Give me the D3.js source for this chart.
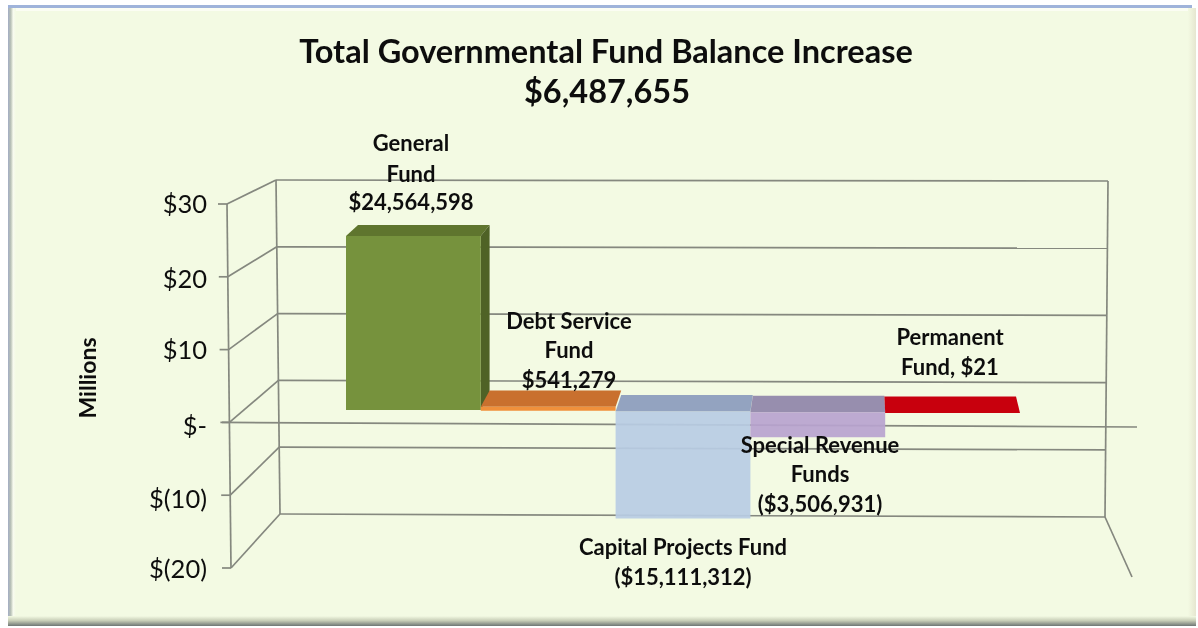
<!DOCTYPE html>
<html>
<head>
<meta charset="utf-8">
<script src="https://cdn.jsdelivr.net/npm/d3@7"></script>
<style>
  html, body { margin: 0; padding: 0; background: #fff; }
  svg { display: block; }
  text { font-family: Lato, Carlito, sans-serif; fill: #111; }
</style>
</head>
<body>
<svg id="chart" width="1198" height="628"></svg>
<script>
const categories = ["General Fund", "Debt Service Fund", "Capital Projects Fund", "Special Revenue Funds", "Permanent Fund"];
const values = [24.564598, 0.541279, -15.111312, -3.506931, 0.000021];
const faceColors = ["#76923c", "#f0903a", "#b8cce4", "#b9a3cf", "#c8000e"];
const topColors = ["#5f752d", "#c96f2e", "#8b9cbd", "#8f84a9", "#c8000e"];
const sideColors = ["#4f6228", "#c96f2e", "#8b9cbd", "#8f84a9", "#c8000e"];
const labelLines = [
  ["General", "Fund", "$24,564,598"],
  ["Debt Service", "Fund", "$541,279"],
  ["Capital Projects Fund", "($15,111,312)"],
  ["Special Revenue", "Funds", "($3,506,931)"],
  ["Permanent", "Fund, $21"]
];
const tickValues = [30, 20, 10, 0, -10, -20];
const tickLabels = ["$30", "$20", "$10", "$-", "$(10)", "$(20)"];
const titleLines = ["Total Governmental Fund Balance Increase", "$6,487,655"];

const svg = d3.select("#chart");

// panel background with the soft edge
const defs = svg.append("defs");
const soft = defs.append("filter").attr("id", "soft").attr("x", "-5%").attr("y", "-5%").attr("width", "110%").attr("height", "110%");
soft.append("feGaussianBlur").attr("stdDeviation", 0.55);
const softText = defs.append("filter").attr("id", "softText").attr("x", "-5%").attr("y", "-5%").attr("width", "110%").attr("height", "110%");
softText.append("feGaussianBlur").attr("stdDeviation", 0.4);

const bottomEdge = defs.append("linearGradient").attr("id", "bottomEdge").attr("x1", 0).attr("x2", 0).attr("y1", 0).attr("y2", 1);
bottomEdge.append("stop").attr("offset", "0%").attr("stop-color", "#f3fae3");
bottomEdge.append("stop").attr("offset", "45%").attr("stop-color", "#c9cfb8");
bottomEdge.append("stop").attr("offset", "100%").attr("stop-color", "#6f7674");

const rightEdge = defs.append("linearGradient").attr("id", "rightEdge");
rightEdge.append("stop").attr("offset", "0%").attr("stop-color", "#f3fae3");
rightEdge.append("stop").attr("offset", "100%").attr("stop-color", "#e6e6d0");

const leftEdge = defs.append("linearGradient").attr("id", "leftEdge");
leftEdge.append("stop").attr("offset", "0%").attr("stop-color", "#a3adc4");
leftEdge.append("stop").attr("offset", "35%").attr("stop-color", "#b9c2b6");
leftEdge.append("stop").attr("offset", "65%").attr("stop-color", "#f8fbef");
leftEdge.append("stop").attr("offset", "100%").attr("stop-color", "#f3fae3");

svg.append("rect").attr("x", 8).attr("y", 8).attr("width", 1188).attr("height", 618).attr("fill", "#f3fae3");
svg.append("rect").attr("x", 8).attr("y", 5).attr("width", 1184).attr("height", 3).attr("fill", "#9fb3da");
svg.append("rect").attr("x", 10).attr("y", 8).attr("width", 1182).attr("height", 3).attr("fill", "#fbfdf3");
svg.append("rect").attr("x", 8).attr("y", 8).attr("width", 8).attr("height", 618).attr("fill", "url(#leftEdge)");
svg.append("rect").attr("x", 1188).attr("y", 8).attr("width", 8).attr("height", 610).attr("fill", "url(#rightEdge)");
svg.append("rect").attr("x", 8).attr("y", 616).attr("width", 1188).attr("height", 10).attr("fill", "url(#bottomEdge)");

const chart = svg.append("g").attr("filter", "url(#soft)");

// the walls: front axis plane and back plane, each with its own scale
const yFront = d3.scaleLinear().domain([-20, 30]).range([568, 204]);
const yBack = d3.scaleLinear().domain([-20, 30]).range([514, 180]);
const yBackRight = d3.scaleLinear().domain([-20, 30]).range([517, 181]);
const xFront = d3.scaleLinear().domain([-20, 30]).range([231, 227]);
const xBack = d3.scaleLinear().domain([-20, 30]).range([280, 276]);
const xBackRight = d3.scaleLinear().domain([-20, 30]).range([1105, 1108]);

const grid = chart.append("g").attr("stroke", "#85887f").attr("stroke-width", 1.7).attr("fill", "none");

// back wall gridlines
grid.selectAll(".back").data(tickValues).join("line").attr("class", "back")
  .attr("x1", d => xBack(d)).attr("y1", d => yBack(d))
  .attr("x2", d => xBackRight(d)).attr("y2", d => yBackRight(d));

// side wall lines
grid.selectAll(".side").data(tickValues).join("line").attr("class", "side")
  .attr("x1", d => xFront(d)).attr("y1", d => yFront(d))
  .attr("x2", d => xBack(d)).attr("y2", d => yBack(d));

// front tick marks
grid.selectAll(".tick").data(tickValues).join("line").attr("class", "tick")
  .attr("x1", d => xFront(d) - 9).attr("y1", d => yFront(d))
  .attr("x2", d => xFront(d)).attr("y2", d => yFront(d));

// vertical edges
grid.append("line").attr("x1", xFront(30)).attr("y1", yFront(30)).attr("x2", xFront(-20)).attr("y2", yFront(-20));
grid.append("line").attr("x1", xBack(30)).attr("y1", yBack(30)).attr("x2", xBack(-20)).attr("y2", yBack(-20));
grid.append("line").attr("x1", xBackRight(30)).attr("y1", yBackRight(30)).attr("x2", xBackRight(-20)).attr("y2", yBackRight(-20));

// floor edge on the right and the zero line in front
grid.append("line").attr("x1", xBackRight(-20)).attr("y1", yBackRight(-20)).attr("x2", 1132).attr("y2", 577);
grid.append("line").attr("x1", 222).attr("y1", yFront(0)).attr("x2", 1137).attr("y2", 427);

// bars
const x = d3.scaleBand().domain(categories).range([346, 1020]);
const y = d3.scaleLinear().domain([-20, 30]).range([410 + 20 * 7.08, 410 - 30 * 7.08]);

// each bar sits a little lower than the one before it, but stays level itself
const tilt = d3.scaleLinear().domain([346, 1020]).range([-0.5, 3.5]);
// where a front corner lands on the back face of the bar
const dx = d3.scaleLinear().domain([346, 1020]).range([12, -4]);
const dy = d3.scaleLinear().domain([236, 410]).range([11, 16.5]);
const path = pts => d3.line()(pts) + "Z";

const bars = chart.append("g").selectAll("g").data(categories).join("g")
  .attr("fill-opacity", (d, i) => values[i] < 0 ? 0.92 : 1);

bars.each(function (d, i) {
  const g = d3.select(this);
  const x0 = x(d), x1 = x0 + x.bandwidth();
  const shift = tilt((x0 + x1) / 2);
  const yTop = y(Math.max(0, values[i]));
  const yBottom = y(Math.min(0, values[i]));
  const front = (px, py) => [px, py + shift];
  const back = (px, py) => [px + dx(px), py + shift - dy(py)];
  // top face
  g.append("path").attr("fill", topColors[i])
    .attr("d", path([front(x0, yTop), front(x1, yTop), back(x1, yTop), back(x0, yTop)]));
  // side face, only the tall bar really shows one
  if (values[i] > 1) {
    g.append("path").attr("fill", sideColors[i])
      .attr("d", path([front(x1, yTop), back(x1, yTop), back(x1, yBottom), front(x1, yBottom)]));
  }
  // front face
  g.append("path").attr("fill", faceColors[i])
    .attr("d", path([front(x0, yTop), front(x1, yTop), front(x1, yBottom), front(x0, yBottom)]));
});

// texts
const texts = svg.append("g").attr("filter", "url(#softText)");

const title = texts.append("g").attr("text-anchor", "middle").style("font-weight", 700).style("font-size", "32.5px");
title.selectAll("text").data(titleLines).join("text")
  .attr("x", (d, i) => i ? 607 : 606).attr("y", (d, i) => i ? 103 : 63).text(d => d);

const labelX = [411, 569, 683, 820, 950];
const labelY = [[142, 173, 201], [320, 349, 379], [546, 576], [444, 473, 503], [336, 366]];
const labels = texts.append("g").attr("text-anchor", "middle").attr("dominant-baseline", "central")
  .style("font-weight", 700).style("font-size", "22px");
labelLines.forEach((lines, i) => {
  lines.forEach((line, j) => {
    labels.append("text").attr("x", labelX[i]).attr("y", labelY[i][j]).text(line);
  });
});

const tickY = [203, 278, 349, 425, 498, 568];
texts.append("g").attr("text-anchor", "end").attr("dominant-baseline", "central").style("font-size", "25.5px")
  .selectAll("text").data(tickLabels).join("text")
  .attr("x", 207).attr("y", (d, i) => tickY[i]).text(d => d);

texts.append("text").attr("transform", "translate(87,378) rotate(-90)")
  .attr("text-anchor", "middle").attr("dominant-baseline", "central")
  .style("font-weight", 700).style("font-size", "23px").text("Millions");
</script>
</body>
</html>
